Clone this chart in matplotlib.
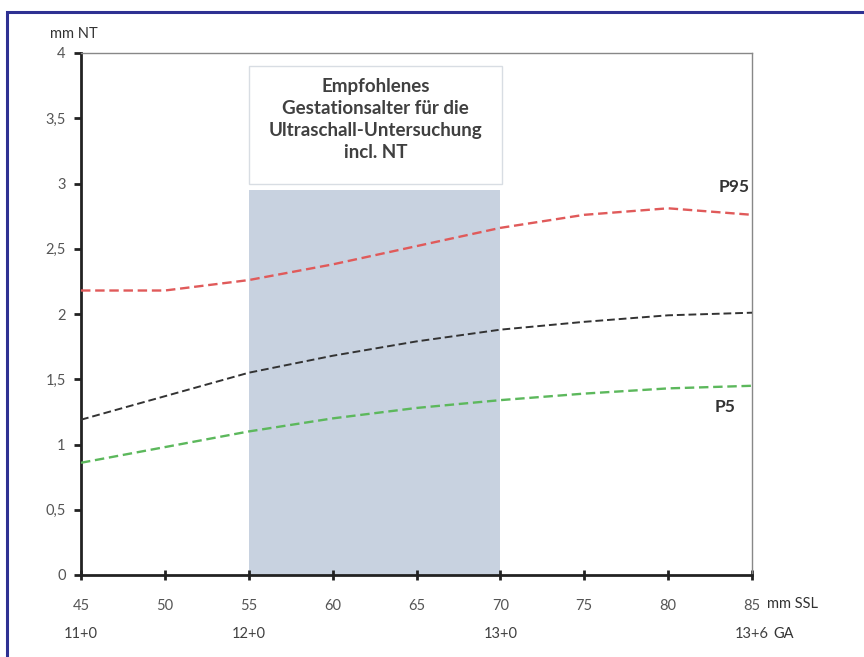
import matplotlib
matplotlib.use("Agg")
import matplotlib.pyplot as plt
from matplotlib.patches import Rectangle

# Data
ssl = [45, 50, 55, 60, 65, 70, 75, 80, 85]
p95 = [2.18, 2.18, 2.26, 2.38, 2.52, 2.66, 2.76, 2.81, 2.76]
p50 = [1.19, 1.37, 1.55, 1.68, 1.79, 1.88, 1.94, 1.99, 2.01]
p5 = [0.86, 0.98, 1.10, 1.20, 1.28, 1.34, 1.39, 1.43, 1.45]
xticks = [45, 50, 55, 60, 65, 70, 75, 80, 85]
yticks = [0, 0.5, 1, 1.5, 2, 2.5, 3, 3.5, 4]
ytick_labels = ["0", "0,5", "1", "1,5", "2", "2,5", "3", "3,5", "4"]
ga_pos = [45, 55, 70, 85]
ga_labels = ["11+0", "12+0", "13+0", "13+6"]
shade_x = (55, 70)
shade_top = 2.95
box_text = "Empfohlenes\nGestationsalter für die\nUltraschall-Untersuchung\nincl. NT"

plt.rcParams['font.family'] = ['Lato', 'DejaVu Sans']

W, H = 864, 657
fig = plt.figure(figsize=(W / 100, H / 100), dpi=100)

# outer blue frame
fig.patches.append(Rectangle((7 / W, -0.01), 1.1, 1 - 12 / H + 0.01, transform=fig.transFigure,
                             fill=False, edgecolor='#2e3192', linewidth=2.2, zorder=0))

ax = fig.add_axes([81 / W, 1 - 575 / H, (752 - 81) / W, (575 - 53) / H])
ax.set_xlim(45, 85)
ax.set_ylim(0, 4)

# shaded region
ax.add_patch(Rectangle((shade_x[0], 0), shade_x[1] - shade_x[0], shade_top,
                       facecolor='#c8d2e0', edgecolor='none', zorder=1))

# text box
ax.add_patch(Rectangle((shade_x[0], 3.0), shade_x[1] - shade_x[0] + 0.1, 0.9,
                       facecolor='white', edgecolor='#d8dde3', linewidth=1.0, zorder=2))
ax.text((shade_x[0] + shade_x[1]) / 2 + 0.05, 3.49, box_text, ha='center', va='center',
        fontsize=13.5, color='#404040', fontweight='bold', linespacing=1.36, zorder=3)

dash = (0, (4, 2))
ax.plot(ssl, p95, color='#e05a5a', linestyle=dash, linewidth=1.7, zorder=4)
ax.plot(ssl, p50, color='#333333', linestyle=dash, linewidth=1.4, zorder=4)
ax.plot(ssl, p5, color='#5cb85c', linestyle=dash, linewidth=1.7, zorder=4)

ax.text(84.85, 2.97, "P95", ha='right', va='center', fontsize=12.5, fontweight='bold', color='#333333')
ax.text(84.0, 1.29, "P5", ha='right', va='center', fontsize=12.5, fontweight='bold', color='#333333')

# spines
for s in ['top', 'right']:
    ax.spines[s].set_color('#888888')
    ax.spines[s].set_linewidth(1.0)
for s in ['left', 'bottom']:
    ax.spines[s].set_color('#222222')
    ax.spines[s].set_linewidth(2.0)

ax.set_yticks(yticks)
ax.set_yticklabels(ytick_labels)
ax.set_xticks(xticks)
ax.set_xticklabels([str(v) for v in xticks])
ax.tick_params(axis='y', direction='out', length=5, width=2, color='#222222',
               labelsize=10.5, labelcolor='#555555', pad=6)
ax.tick_params(axis='x', direction='inout', length=7, width=2, color='#222222',
               labelsize=10.5, labelcolor='#555555', pad=14)

# GA labels
for p, l in zip(ga_pos, ga_labels):
    ax.text(p, -0.455, l, ha='center', va='center', fontsize=10.5, color='#404040',
            transform=ax.transData, clip_on=False)

ax.text(85.9, -0.225, "mm SSL", ha='left', va='center', fontsize=10.5, color='#333333', clip_on=False)
ax.text(86.3, -0.455, "GA", ha='left', va='center', fontsize=10.5, color='#333333', clip_on=False)
fig.text(50 / W, 1 - 34 / H, "mm NT", ha='left', va='center', fontsize=10.5, color='#333333')

fig.savefig("out.png", dpi=100)
